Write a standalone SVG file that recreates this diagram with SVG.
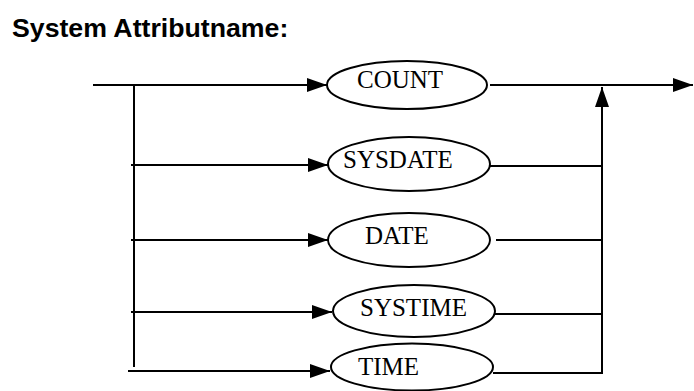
<svg xmlns="http://www.w3.org/2000/svg" width="694" height="391" viewBox="0 0 694 391">
  <style>
    .title { font-family: "Liberation Sans", Arial, sans-serif; font-weight: bold; font-size: 26.7px; fill: #000; }
    .term { fill: #fff; stroke: #000; stroke-width: 2; }
    .label { font-family: "Liberation Serif", "Times New Roman", serif; font-size: 25px; fill: #000; }
    .wire { fill: none; stroke: #000; stroke-width: 2; }
  </style>
  <defs>
    <marker id="arrow" viewBox="0 0 20 14" refX="20" refY="7" markerWidth="20" markerHeight="14" markerUnits="userSpaceOnUse" orient="auto">
      <path d="M0,0 L20,7 L0,14 Z" fill="#000"/>
    </marker>
  </defs>
  <rect width="694" height="391" fill="#fff"/>

  <text class="title" x="12" y="37">System Attributname:</text>

  <g id="connectors">
    <!-- entry and branches to each keyword -->
    <line class="wire" x1="93" y1="85" x2="327" y2="85" marker-end="url(#arrow)"/>
    <line class="wire" x1="134" y1="85" x2="134" y2="367"/>
    <line class="wire" x1="131" y1="165" x2="328" y2="165" marker-end="url(#arrow)"/>
    <line class="wire" x1="131" y1="240" x2="328" y2="240" marker-end="url(#arrow)"/>
    <line class="wire" x1="131" y1="312" x2="332" y2="312" marker-end="url(#arrow)"/>
    <line class="wire" x1="128" y1="371" x2="330" y2="371" marker-end="url(#arrow)"/>
    <!-- merge back and exit -->
    <line class="wire" x1="490" y1="85" x2="693" y2="85" marker-end="url(#arrow)"/>
    <polyline class="wire" points="493,373 602,373 602,87" marker-end="url(#arrow)"/>
    <line class="wire" x1="490" y1="166" x2="602" y2="166"/>
    <line class="wire" x1="496" y1="240" x2="602" y2="240"/>
    <line class="wire" x1="495" y1="314" x2="602" y2="314"/>
  </g>

  <g id="count">
    <ellipse class="term" cx="407" cy="85" rx="80" ry="24"/>
    <text class="label" x="357" y="88">COUNT</text>
  </g>
  <g id="sysdate">
    <ellipse class="term" cx="409" cy="164" rx="81" ry="27"/>
    <text class="label" x="343" y="168">SYSDATE</text>
  </g>
  <g id="date">
    <ellipse class="term" cx="409" cy="240" rx="81" ry="27"/>
    <text class="label" x="365" y="244">DATE</text>
  </g>
  <g id="systime">
    <ellipse class="term" cx="414" cy="311" rx="81" ry="26"/>
    <text class="label" x="360" y="316">SYSTIME</text>
  </g>
  <g id="time">
    <ellipse class="term" cx="412" cy="367" rx="81" ry="23.5"/>
    <text class="label" x="358" y="375">TIME</text>
  </g>
</svg>
